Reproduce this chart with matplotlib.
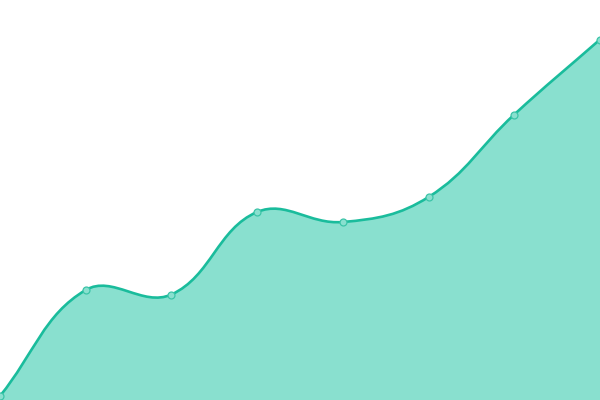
import numpy as np
import matplotlib
matplotlib.use("Agg")
import matplotlib.pyplot as plt
from matplotlib.path import Path
from matplotlib.patches import PathPatch

categories = ["1", "2", "3", "4", "5", "6", "7", "8"]
values = [4, 110, 105.5, 188, 178, 203, 285.5, 360.5]

LINE = "#1abc9c"
FILL = "#89e0cf"

W, H = 600, 400
fig = plt.figure(figsize=(W / 100, H / 100), dpi=100)
ax = fig.add_axes([0, 0, 1, 1])
xmin, xmax = 0, len(categories) - 1
ymin, ymax = 0, 400
ax.set_xlim(xmin, xmax)
ax.set_ylim(ymin, ymax)
ax.axis("off")

x = np.arange(len(categories), dtype=float)
y = np.array(values, dtype=float)
# pixel-space scale factors for spline distances
sx = W / (xmax - xmin)
sy = H / (ymax - ymin)
px, py = x * sx, y * sy

tension = 0.4
verts = [(x[0], y[0])]
codes = [Path.MOVETO]
n = len(x)
cps = []
for i in range(n):
    pi = max(i - 1, 0)
    ni = min(i + 1, n - 1)
    d01 = np.hypot(px[i] - px[pi], py[i] - py[pi])
    d12 = np.hypot(px[ni] - px[i], py[ni] - py[i])
    tot = d01 + d12
    s01 = d01 / tot if tot else 0
    s12 = d12 / tot if tot else 0
    fa, fb = tension * s01, tension * s12
    cp_prev = (px[i] - fa * (px[ni] - px[pi]), py[i] - fa * (py[ni] - py[pi]))
    cp_next = (px[i] + fb * (px[ni] - px[pi]), py[i] + fb * (py[ni] - py[pi]))
    cps.append((cp_prev, cp_next))
for i in range(n - 1):
    c1 = cps[i][1]
    c2 = cps[i + 1][0]
    verts += [(c1[0] / sx, c1[1] / sy), (c2[0] / sx, c2[1] / sy), (x[i + 1], y[i + 1])]
    codes += [Path.CURVE4] * 3

line_path = Path(verts, codes)
fill_verts = verts + [(x[-1], ymin), (x[0], ymin), (x[0], y[0])]
fill_codes = codes + [Path.LINETO, Path.LINETO, Path.CLOSEPOLY]
ax.add_patch(PathPatch(Path(fill_verts, fill_codes), facecolor=FILL, edgecolor="none"))
ax.add_patch(PathPatch(line_path, facecolor="none", edgecolor=LINE, lw=1.9))
ax.plot(x, y, "o", ms=5, mfc=FILL, mec="#3cc4a8", mew=0.9, zorder=5)

fig.savefig("out.png", dpi=100)
